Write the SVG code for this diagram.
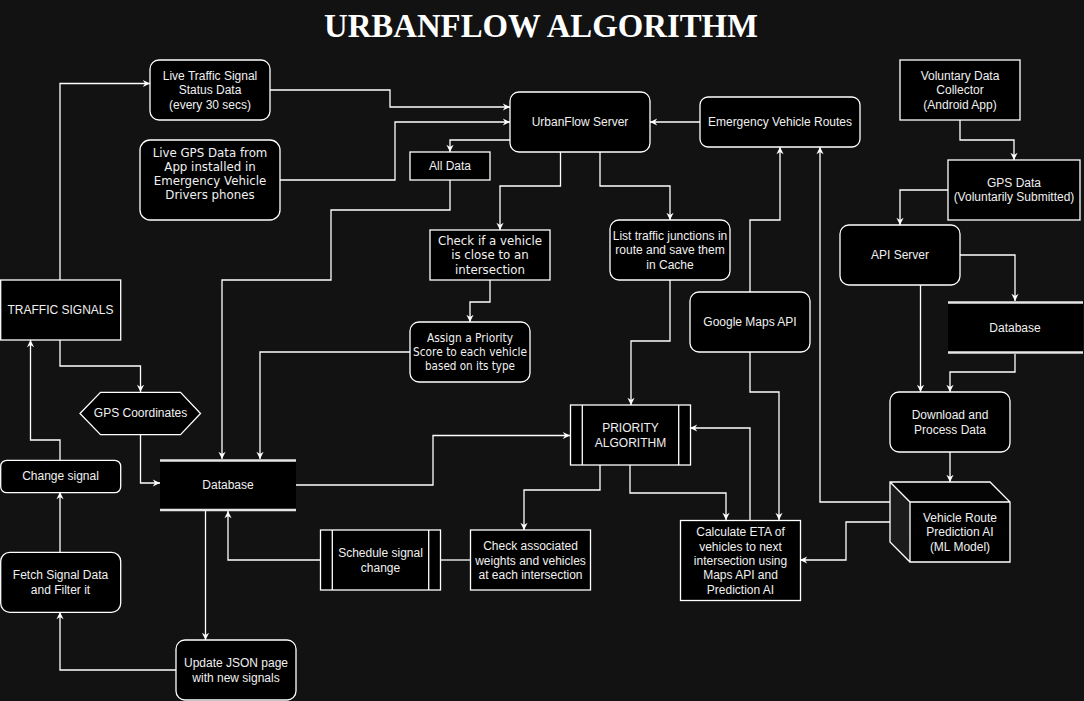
<svg xmlns="http://www.w3.org/2000/svg" width="1084" height="701" viewBox="0 0 1084 701">
<defs>
<style>
.bg{fill:#121212}
.n{fill:#000;stroke:#fff;stroke-width:1.3}
.nf{fill:#000}
.dbl{stroke:#e6e6e6;stroke-width:2.6}
.t{font-family:"Liberation Sans",Arial,sans-serif;font-size:12px;fill:#f0f0f0;text-anchor:middle}
.v{font-family:"DejaVu Sans",Verdana,sans-serif;font-size:11.8px;fill:#f0f0f0;text-anchor:middle}
.vs{font-family:"DejaVu Sans",Verdana,sans-serif;font-size:11.6px;fill:#f0f0f0;text-anchor:middle}
.title{font-family:"Liberation Serif","Times New Roman",serif;font-size:32.8px;font-weight:bold;fill:#fff;text-anchor:middle}
.c{fill:none;stroke:#fff;stroke-width:1.3}
.ca{fill:none;stroke:#fff;stroke-width:1.3;marker-end:url(#arr)}
</style>
<marker id="arr" viewBox="0 0 10 10" refX="9" refY="5" markerWidth="9" markerHeight="9" orient="auto" markerUnits="userSpaceOnUse">
<path d="M1,1 L9,5 L1,9 L3.5,5 z" fill="#fff"/>
</marker>
</defs>
<rect class="bg" x="0" y="0" width="1084" height="701"/>
<text class="title" x="541" y="36.5">URBANFLOW ALGORITHM</text>

<g id="connectors">
<path class="ca" d="M60,280 V83.5 H150"/>
<path class="ca" d="M270,90 H390 V107 H510"/>
<path class="ca" d="M280,180 H395 V122 H510"/>
<path class="ca" d="M510,140 H450 V152"/>
<path class="ca" d="M450,180 V210 H331 V280 H222 V459"/>
<path class="ca" d="M410,352 H260 V459"/>
<path class="ca" d="M560.5,152 V186 H500 V230"/>
<path class="ca" d="M600,152 V186 H670 V220"/>
<path class="ca" d="M490,280 V302 H470 V322"/>
<path class="ca" d="M670,280 V341 H631 V405"/>
<path class="ca" d="M700,122 H650"/>
<path class="ca" d="M750,292 V220 H780 V147"/>
<path class="ca" d="M890,502 H820 V147"/>
<path class="ca" d="M890,522 H846 V560 H800"/>
<path class="ca" d="M750,352 V392 H779 V520"/>
<path class="ca" d="M750,520 V428 H690"/>
<path class="ca" d="M630,465 V493 H726 V520"/>
<path class="ca" d="M600,465 V490 H524 V530"/>
<path class="c" d="M470,560 H440"/>
<path class="ca" d="M320,560 H228 V511"/>
<path class="ca" d="M205.5,511 V640"/>
<path class="ca" d="M176,670 H60 V612"/>
<path class="ca" d="M60,552 V492"/>
<path class="ca" d="M60,460 V440 H30.5 V340"/>
<path class="ca" d="M60,340 V366 H140.5 V392"/>
<path class="ca" d="M140.5,434 V483 H160"/>
<path class="ca" d="M296,485 H433 V435.5 H570"/>
<path class="ca" d="M960,120 V140 H1014 V160"/>
<path class="ca" d="M948,190 H900 V225"/>
<path class="ca" d="M960,255 H1015 V301"/>
<path class="ca" d="M920.5,285 V392"/>
<path class="ca" d="M1015,354 V372 H950 V392"/>
<path class="ca" d="M950,452 V482"/>
</g>

<g id="live-traffic">
<rect class="n" x="150" y="60" width="120" height="60" rx="9"/>
<text class="t" x="210" y="80">Live Traffic Signal</text>
<text class="t" x="210" y="94.3">Status Data</text>
<text class="t" x="210" y="108.6">(every 30 secs)</text>
</g>
<g id="live-gps">
<rect class="n" x="140" y="140" width="140" height="80" rx="10"/>
<text class="v" x="210" y="156.5">Live GPS Data from</text>
<text class="v" x="210" y="170.8">App installed in</text>
<text class="v" x="210" y="185">Emergency Vehicle</text>
<text class="v" x="210" y="199.3">Drivers phones</text>
</g>
<g id="urbanflow-server">
<rect class="n" x="510" y="92" width="140" height="60" rx="9"/>
<text class="t" x="580" y="126.3">UrbanFlow Server</text>
</g>
<g id="emergency-routes">
<rect class="n" x="700" y="97" width="160" height="50" rx="8"/>
<text class="t" x="780" y="126.3">Emergency Vehicle Routes</text>
</g>
<g id="all-data">
<rect class="n" x="410" y="152" width="80" height="28"/>
<text class="t" x="450" y="170.3">All Data</text>
</g>
<g id="check-vehicle">
<rect class="n" x="430" y="230" width="120" height="50"/>
<text class="v" x="490" y="245">Check if a vehicle</text>
<text class="v" x="490" y="259.3">is close to an</text>
<text class="v" x="490" y="273.6">intersection</text>
</g>
<g id="list-junctions">
<rect class="n" x="610" y="220" width="120" height="60" rx="9"/>
<text class="t" x="670" y="240">List traffic junctions in</text>
<text class="t" x="670" y="254.2">route and save them</text>
<text class="t" x="670" y="268.5">in Cache</text>
</g>
<g id="assign-priority">
<rect class="n" x="410" y="322" width="120" height="60" rx="9"/>
<text class="vs" x="470" y="341.8" textLength="86" lengthAdjust="spacingAndGlyphs">Assign a Priority</text>
<text class="vs" x="470" y="356.1" textLength="114" lengthAdjust="spacingAndGlyphs">Score to each vehicle</text>
<text class="vs" x="470" y="370.4" textLength="90" lengthAdjust="spacingAndGlyphs">based on its type</text>
</g>
<g id="google-maps">
<rect class="n" x="690" y="292" width="120" height="60" rx="9"/>
<text class="t" x="750" y="326.3">Google Maps API</text>
</g>
<g id="voluntary-collector">
<rect class="n" x="900" y="60" width="120" height="60"/>
<text class="t" x="960" y="80">Voluntary Data</text>
<text class="t" x="960" y="94.3">Collector</text>
<text class="t" x="960" y="108.6">(Android App)</text>
</g>
<g id="gps-voluntary">
<rect class="n" x="948" y="160" width="132" height="60"/>
<text class="t" x="1014" y="187">GPS Data</text>
<text class="t" x="1014" y="201.4">(Voluntarily Submitted)</text>
</g>
<g id="api-server">
<rect class="n" x="840" y="225" width="120" height="60" rx="9"/>
<text class="t" x="900" y="259">API Server</text>
</g>
<g id="database-right">
<rect class="nf" x="948" y="302" width="135" height="51"/>
<line class="dbl" x1="948" y1="302.5" x2="1083" y2="302.5"/>
<line class="dbl" x1="948" y1="352.5" x2="1083" y2="352.5"/>
<text class="t" x="1015" y="331.5">Database</text>
</g>
<g id="download-process">
<rect class="n" x="890" y="392" width="120" height="60" rx="9"/>
<text class="t" x="950" y="419">Download and</text>
<text class="t" x="950" y="433.6">Process Data</text>
</g>
<g id="prediction-ai">
<polygon points="890,482 990,482 1010,502 910,502" fill="#050505"/>
<polygon points="890,482 910,502 910,562 890,542" fill="#1c1c1c"/>
<rect class="nf" x="910" y="502" width="100" height="60"/>
<path d="M890,482 H990 L1010,502 V562 H910 L890,542 Z M890,482 L910,502 H1010 M910,502 V562" fill="none" stroke="#fff" stroke-width="1.3"/>
<text class="t" x="960" y="522">Vehicle Route</text>
<text class="t" x="960" y="536.3">Prediction AI</text>
<text class="t" x="960" y="550.6">(ML Model)</text>
</g>
<g id="priority-algorithm">
<rect class="n" x="570.5" y="405" width="120" height="60"/>
<line x1="582.3" y1="405" x2="582.3" y2="465" stroke="#fff" stroke-width="1.3"/>
<line x1="678.7" y1="405" x2="678.7" y2="465" stroke="#fff" stroke-width="1.3"/>
<text class="t" x="630.5" y="432">PRIORITY</text>
<text class="t" x="630.5" y="446.5">ALGORITHM</text>
</g>
<g id="calculate-eta">
<rect class="n" x="680.5" y="520.5" width="120" height="80"/>
<text class="t" x="740.5" y="536.3">Calculate ETA of</text>
<text class="t" x="740.5" y="550.6">vehicles to next</text>
<text class="t" x="740.5" y="564.9">intersection using</text>
<text class="t" x="740.5" y="579.2">Maps API and</text>
<text class="t" x="740.5" y="593.5">Prediction AI</text>
</g>
<g id="check-weights">
<rect class="n" x="470.5" y="530" width="120" height="60"/>
<text class="t" x="530.5" y="550">Check associated</text>
<text class="t" x="530.5" y="564.5">weights and vehicles</text>
<text class="t" x="530.5" y="578.9">at each intersection</text>
</g>
<g id="schedule-signal">
<rect class="n" x="320.5" y="530" width="120" height="60"/>
<line x1="332.3" y1="530" x2="332.3" y2="590" stroke="#fff" stroke-width="1.3"/>
<line x1="428.7" y1="530" x2="428.7" y2="590" stroke="#fff" stroke-width="1.3"/>
<text class="t" x="380.5" y="557">Schedule signal</text>
<text class="t" x="380.5" y="571.5">change</text>
</g>
<g id="traffic-signals">
<rect class="n" x="0.7" y="280" width="120" height="60"/>
<text class="t" x="60.5" y="313.6">TRAFFIC SIGNALS</text>
</g>
<g id="gps-coordinates">
<polygon class="n" points="80,413.5 100.5,392.3 180.5,392.3 200.5,413.5 180.5,434.7 100.5,434.7"/>
<text class="t" x="140.5" y="417.3">GPS Coordinates</text>
</g>
<g id="database-left">
<rect class="nf" x="160" y="460" width="136" height="50"/>
<line class="dbl" x1="160" y1="460.5" x2="296" y2="460.5"/>
<line class="dbl" x1="160" y1="510" x2="296" y2="510"/>
<text class="t" x="228" y="488.6">Database</text>
</g>
<g id="change-signal">
<rect class="n" x="0.7" y="460.3" width="120" height="32.4" rx="6"/>
<text class="t" x="60.5" y="480">Change signal</text>
</g>
<g id="fetch-signal">
<rect class="n" x="0.7" y="552.3" width="120" height="60" rx="9"/>
<text class="t" x="60.5" y="579">Fetch Signal Data</text>
<text class="t" x="60.5" y="593.6">and Filter it</text>
</g>
<g id="update-json">
<rect class="n" x="176" y="640" width="120" height="60" rx="9"/>
<text class="t" x="236" y="667.3">Update JSON page</text>
<text class="t" x="236" y="681.6">with new signals</text>
</g>
</svg>
